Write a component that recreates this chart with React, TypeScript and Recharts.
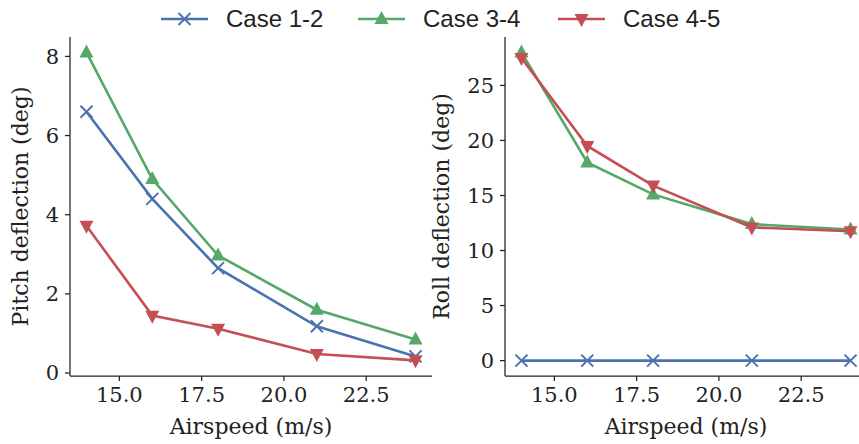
import { LineChart, Line, XAxis, YAxis } from 'recharts';

// airspeed sweep (m/s)
const airspeed = [14, 16, 18, 21, 24];

// pitch deflection (deg)
const pitch12 = [6.6, 4.4, 2.65, 1.18, 0.42];
const pitch34 = [8.1, 4.9, 2.97, 1.6, 0.85];
const pitch45 = [3.72, 1.45, 1.12, 0.48, 0.32];

// roll deflection (deg)
const roll12 = [0, 0, 0, 0, 0];
const roll34 = [28.0, 18.0, 15.1, 12.4, 11.9];
const roll45 = [27.5, 19.5, 15.9, 12.1, 11.75];

const xTicks = [15, 17.5, 20, 22.5];
const pitchTicks = [0, 2, 4, 6, 8];
const rollTicks = [0, 5, 10, 15, 20, 25];
const caseNames = ['Case 1-2', 'Case 3-4', 'Case 4-5'];

const BLUE = '#4C72B0';
const GREEN = '#55A868';
const RED = '#C44E52';
const INK = '#222';
const SERIF = '"DejaVu Serif", serif';

const pitchRows = airspeed.map((x, i) => ({ x, a: pitch12[i], b: pitch34[i], c: pitch45[i] }));
const rollRows = airspeed.map((x, i) => ({ x, a: roll12[i], b: roll34[i], c: roll45[i] }));

function Cross({ cx, cy }: { cx: number; cy: number }) {
  const r = 6;
  return (
    <g stroke={BLUE} strokeWidth={2}>
      <line x1={cx - r} y1={cy - r} x2={cx + r} y2={cy + r} />
      <line x1={cx - r} y1={cy + r} x2={cx + r} y2={cy - r} />
    </g>
  );
}

function TriUp({ cx, cy }: { cx: number; cy: number }) {
  return <polygon points={`${cx},${cy - 8} ${cx - 7},${cy + 5} ${cx + 7},${cy + 5}`} fill={GREEN} />;
}

function TriDown({ cx, cy }: { cx: number; cy: number }) {
  return <polygon points={`${cx},${cy + 8} ${cx - 7},${cy - 5} ${cx + 7},${cy - 5}`} fill={RED} />;
}

type PanelProps = {
  data: typeof pitchRows;
  yDomain: [number, number];
  yTicks: number[];
  yLabel: string;
  labelOffset: number;
  left: number;
  padLeft: number;
};

function Panel({ data, yDomain, yTicks, yLabel, labelOffset, left, padLeft }: PanelProps) {
  const tick = { fontSize: 21, fontFamily: SERIF, fill: INK };
  return (
    <div style={{ position: 'absolute', left, top: 0 }}>
      <LineChart width={440 + padLeft} height={444} data={data} margin={{ top: 37, right: 8, bottom: 8, left: padLeft }}>
        <XAxis
          dataKey="x"
          type="number"
          domain={[13.5, 24.5]}
          ticks={xTicks}
          tickFormatter={(v: number) => v.toFixed(1)}
          stroke={INK}
          strokeWidth={1.25}
          tick={tick}
          tickSize={5}
          tickMargin={6}
          height={60}
          label={{ value: 'Airspeed (m/s)', position: 'insideBottom', offset: 2, style: { fontSize: 22, fontFamily: SERIF, fill: INK } }}
        />
        <YAxis
          type="number"
          domain={yDomain}
          ticks={yTicks}
          allowDataOverflow
          stroke={INK}
          strokeWidth={1.25}
          tick={tick}
          tickSize={5}
          tickMargin={6}
          width={70}
          label={{ value: yLabel, angle: -90, position: 'insideLeft', offset: labelOffset, style: { textAnchor: 'middle', fontSize: 22, fontFamily: SERIF, fill: INK } }}
        />
        <Line dataKey="a" stroke={BLUE} strokeWidth={2.6} isAnimationActive={false}
          dot={(p: any) => <Cross key={p.index} cx={p.cx} cy={p.cy} />} />
        <Line dataKey="b" stroke={GREEN} strokeWidth={2.6} isAnimationActive={false}
          dot={(p: any) => <TriUp key={p.index} cx={p.cx} cy={p.cy} />} />
        <Line dataKey="c" stroke={RED} strokeWidth={2.6} isAnimationActive={false}
          dot={(p: any) => <TriDown key={p.index} cx={p.cx} cy={p.cy} />} />
      </LineChart>
    </div>
  );
}

// shared legend across both panels
function TopLegend() {
  const items = [
    { x: 161, color: BLUE, mark: (cx: number) => <Cross cx={cx} cy={19} /> },
    { x: 358, color: GREEN, mark: (cx: number) => <TriUp cx={cx} cy={19} /> },
    { x: 558, color: RED, mark: (cx: number) => <TriDown cx={cx} cy={19} /> },
  ];
  return (
    <svg width={859} height={36} style={{ position: 'absolute', left: 0, top: 0 }}>
      {items.map((it, i) => (
        <g key={caseNames[i]}>
          <line x1={it.x} x2={it.x + 47} y1={19} y2={19} stroke={it.color} strokeWidth={2.6} />
          {it.mark(it.x + 23.5)}
          <text x={it.x + 65} y={27} fontSize={24} fontFamily='"Liberation Sans", Arial, sans-serif' fill={INK}>
            {caseNames[i]}
          </text>
        </g>
      ))}
    </svg>
  );
}

export default function App() {
  return (
    <div style={{ position: 'absolute', left: 0, top: 0, width: 859, height: 444, overflow: 'hidden', background: '#fff' }}>
      <Panel data={pitchRows} yDomain={[-0.075, 8.49]} yTicks={pitchTicks} yLabel="Pitch deflection (deg)" labelOffset={20} left={0} padLeft={0} />
      <Panel data={rollRows} yDomain={[-1.4, 29.4]} yTicks={rollTicks} yLabel="Roll deflection (deg)" labelOffset={6} left={423} padLeft={12} />
      <TopLegend />
    </div>
  );
}
